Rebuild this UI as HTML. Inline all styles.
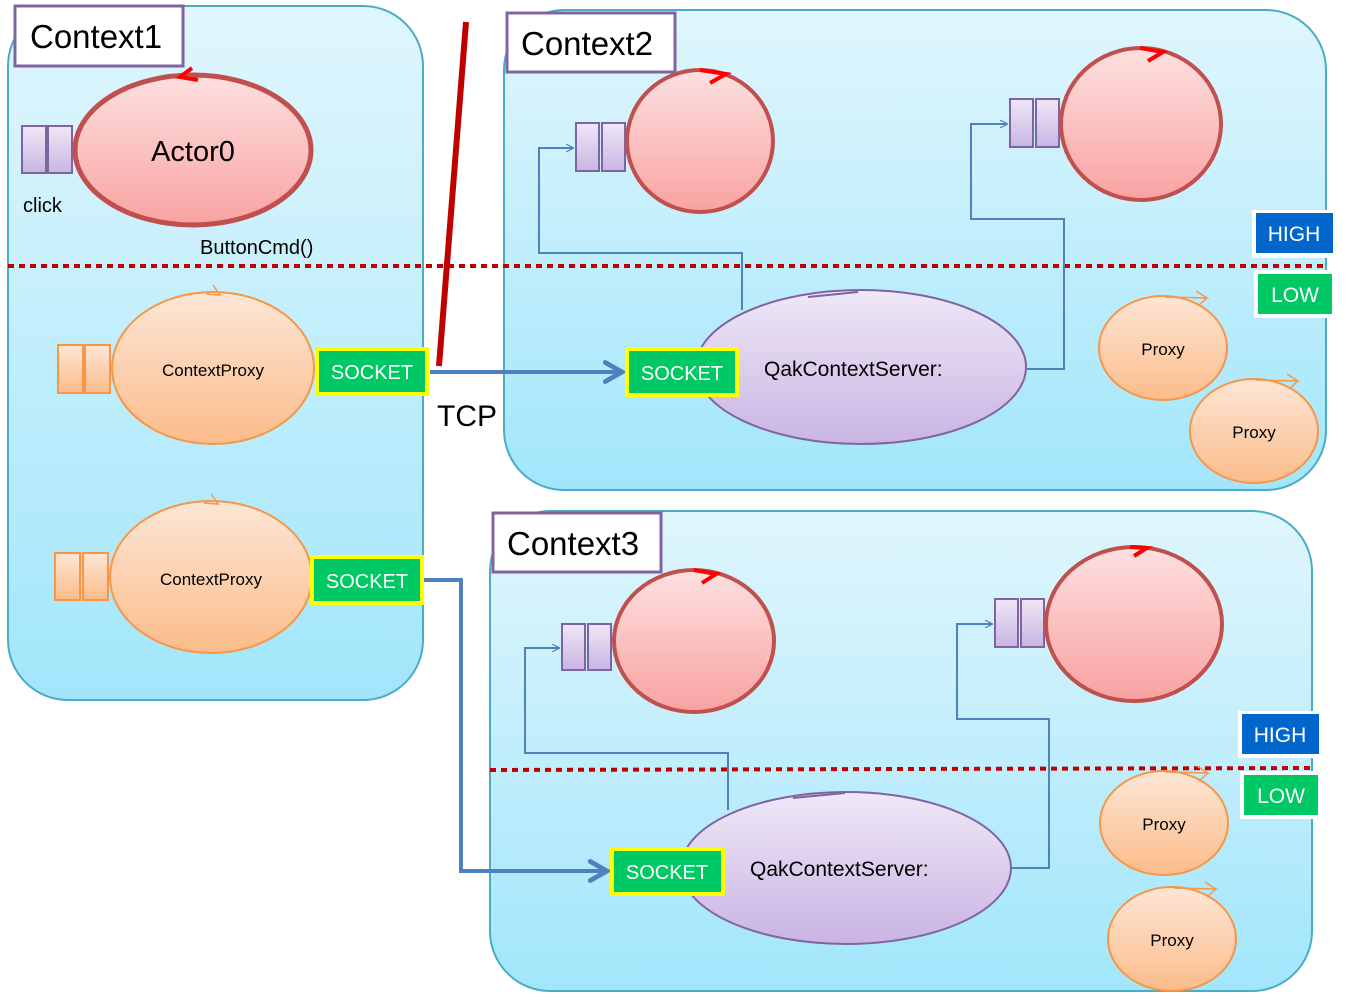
<!DOCTYPE html>
<html><head><meta charset="utf-8"><style>html,body{margin:0;padding:0;background:#fff}svg{display:block}text{font-family:"Liberation Sans",sans-serif}</style></head>
<body>
<svg width="1347" height="1002" viewBox="0 0 1347 1002" xmlns="http://www.w3.org/2000/svg">
<defs>
<linearGradient id="bg" x1="0" y1="0" x2="0" y2="1"><stop offset="0" stop-color="#e0f6fd"/><stop offset="1" stop-color="#a2e6fb"/></linearGradient>
<linearGradient id="red" x1="0" y1="0" x2="0" y2="1"><stop offset="0" stop-color="#fde0e0"/><stop offset="1" stop-color="#f9a2a2"/></linearGradient>
<linearGradient id="org" x1="0" y1="0" x2="0" y2="1"><stop offset="0" stop-color="#fde6d6"/><stop offset="1" stop-color="#fbbc8a"/></linearGradient>
<linearGradient id="pur" x1="0" y1="0" x2="0" y2="1"><stop offset="0" stop-color="#efe8f7"/><stop offset="1" stop-color="#c9b4e3"/></linearGradient>
<marker id="ah" viewBox="0 0 10 10" refX="9" refY="5" markerWidth="8" markerHeight="8" orient="auto" markerUnits="userSpaceOnUse"><path d="M0,0 L10,5 L0,10" fill="none" stroke="#4f81bd" stroke-width="1.5"/></marker>
<marker id="bah" viewBox="0 0 10 10" refX="8" refY="5" markerWidth="6" markerHeight="6" orient="auto"><path d="M1,1 L8,5 L1,9" fill="none" stroke="#4f81bd" stroke-width="2" stroke-linecap="round"/></marker>
</defs>

<!-- Context boxes -->
<rect x="8" y="6" width="415" height="694" rx="60" fill="url(#bg)" stroke="#4bacc6" stroke-width="2"/>
<rect x="504" y="10" width="822" height="480" rx="60" fill="url(#bg)" stroke="#4bacc6" stroke-width="2"/>
<rect x="490" y="511" width="822" height="480" rx="60" fill="url(#bg)" stroke="#4bacc6" stroke-width="2"/>

<!-- Context1 -->
<rect x="15" y="6" width="168" height="60" fill="#fff" stroke="#8064a2" stroke-width="3"/>
<text x="30" y="48" font-size="33">Context1</text>
<rect x="22" y="126" width="24" height="47" fill="url(#pur)" stroke="#8064a2" stroke-width="2"/>
<rect x="48" y="126" width="24" height="47" fill="url(#pur)" stroke="#8064a2" stroke-width="2"/>
<ellipse cx="193" cy="150" rx="118" ry="75" fill="url(#red)" stroke="#c0504d" stroke-width="5"/>
<path d="M198,80 L180,77 L192,68" fill="none" stroke="#f00" stroke-width="4"/>
<text x="193" y="161" font-size="29" text-anchor="middle">Actor0</text>
<text x="23" y="212" font-size="20">click</text>
<text x="200" y="254" font-size="20">ButtonCmd()</text>

<line x1="8" y1="266" x2="1325" y2="266" stroke="#c00000" stroke-width="4" stroke-dasharray="6,5"/>
<line x1="466" y1="22" x2="439" y2="366" stroke="#c00000" stroke-width="6"/>

<rect x="58" y="345" width="25" height="48" fill="url(#org)" stroke="#f79646" stroke-width="2"/>
<rect x="85" y="345" width="25" height="48" fill="url(#org)" stroke="#f79646" stroke-width="2"/>
<ellipse cx="213" cy="368" rx="101" ry="76" fill="url(#org)" stroke="#f79646" stroke-width="2"/>
<path d="M206,294 L220,295 L213,285" fill="none" stroke="#f79646" stroke-width="1.5"/>
<text x="213" y="376" font-size="17" text-anchor="middle">ContextProxy</text>
<rect x="317" y="349" width="110" height="45" fill="#00c864" stroke="#ffff00" stroke-width="4"/>
<text x="372" y="379" font-size="20" fill="#fff" text-anchor="middle">SOCKET</text>

<rect x="55" y="553" width="25" height="47" fill="url(#org)" stroke="#f79646" stroke-width="2"/>
<rect x="83" y="553" width="25" height="47" fill="url(#org)" stroke="#f79646" stroke-width="2"/>
<ellipse cx="211" cy="577" rx="101" ry="76" fill="url(#org)" stroke="#f79646" stroke-width="2"/>
<path d="M204,503 L218,504 L211,494" fill="none" stroke="#f79646" stroke-width="1.5"/>
<text x="211" y="585" font-size="17" text-anchor="middle">ContextProxy</text>
<rect x="312" y="557" width="110" height="46" fill="#00c864" stroke="#ffff00" stroke-width="4"/>
<text x="367" y="588" font-size="20" fill="#fff" text-anchor="middle">SOCKET</text>

<!-- TCP arrows -->
<line x1="430" y1="372" x2="622" y2="372" stroke="#4f81bd" stroke-width="4" marker-end="url(#bah)"/>
<text x="437" y="426" font-size="30">TCP</text>
<polyline points="424,580 461,580 461,871 607,871" fill="none" stroke="#4f81bd" stroke-width="4" marker-end="url(#bah)"/>

<!-- Context2 -->
<rect x="507" y="13" width="168" height="59" fill="#fff" stroke="#8064a2" stroke-width="3"/>
<text x="521" y="55" font-size="33">Context2</text>
<polyline points="742,310 742,253 539,253 539,148 573,148" fill="none" stroke="#4f81bd" stroke-width="2" marker-end="url(#ah)"/>
<polyline points="1027,369 1064,369 1064,219 971,219 971,124 1007,124" fill="none" stroke="#4f81bd" stroke-width="2" marker-end="url(#ah)"/>
<rect x="576" y="123" width="23" height="48" fill="url(#pur)" stroke="#8064a2" stroke-width="2"/>
<rect x="602" y="123" width="23" height="48" fill="url(#pur)" stroke="#8064a2" stroke-width="2"/>
<ellipse cx="700" cy="141" rx="73" ry="71" fill="url(#red)" stroke="#c0504d" stroke-width="4"/>
<path d="M700,70 L726,74 L710,83" fill="none" stroke="#f00" stroke-width="4"/>
<rect x="1010" y="99" width="23" height="48" fill="url(#pur)" stroke="#8064a2" stroke-width="2"/>
<rect x="1036" y="99" width="23" height="48" fill="url(#pur)" stroke="#8064a2" stroke-width="2"/>
<ellipse cx="1141" cy="124" rx="80" ry="76" fill="url(#red)" stroke="#c0504d" stroke-width="4"/>
<path d="M1140,48 L1163,52 L1148,61" fill="none" stroke="#f00" stroke-width="4"/>
<ellipse cx="861" cy="367" rx="165" ry="77" fill="url(#pur)" stroke="#8064a2" stroke-width="2"/>
<line x1="808" y1="297" x2="858" y2="292" stroke="#8064a2" stroke-width="2"/>
<rect x="627" y="349" width="110" height="46" fill="#00c864" stroke="#ffff00" stroke-width="4"/>
<text x="682" y="380" font-size="20" fill="#fff" text-anchor="middle">SOCKET</text>
<text x="764" y="376" font-size="21">QakContextServer:</text>
<rect x="1252" y="210" width="86" height="48" fill="#fff"/>
<rect x="1256" y="213" width="77" height="40" fill="#0066cc"/>
<text x="1294" y="241" font-size="21" fill="#fff" text-anchor="middle">HIGH</text>
<rect x="1254" y="270" width="83" height="48" fill="#fff"/>
<rect x="1258" y="274" width="74" height="40" fill="#00c864"/>
<text x="1295" y="302" font-size="21" fill="#fff" text-anchor="middle">LOW</text>
<ellipse cx="1163" cy="348" rx="64" ry="52" fill="url(#org)" stroke="#f79646" stroke-width="2"/>
<path d="M1165,297 L1207,298 L1196,291 M1207,298 L1198,306" fill="none" stroke="#f79646" stroke-width="1.5"/>
<text x="1163" y="355" font-size="17" text-anchor="middle">Proxy</text>
<ellipse cx="1254" cy="431" rx="64" ry="52" fill="url(#org)" stroke="#f79646" stroke-width="2"/>
<path d="M1256,380 L1298,381 L1287,374 M1298,381 L1289,389" fill="none" stroke="#f79646" stroke-width="1.5"/>
<text x="1254" y="438" font-size="17" text-anchor="middle">Proxy</text>

<!-- Context3 -->
<rect x="493" y="513" width="168" height="59" fill="#fff" stroke="#8064a2" stroke-width="3"/>
<text x="507" y="555" font-size="33">Context3</text>
<line x1="490" y1="770" x2="1312" y2="768" stroke="#c00000" stroke-width="4" stroke-dasharray="6,5"/>
<polyline points="728,810 728,753 525,753 525,648 559,648" fill="none" stroke="#4f81bd" stroke-width="2" marker-end="url(#ah)"/>
<polyline points="1012,868 1049,868 1049,719 957,719 957,624 992,624" fill="none" stroke="#4f81bd" stroke-width="2" marker-end="url(#ah)"/>
<rect x="562" y="624" width="23" height="46" fill="url(#pur)" stroke="#8064a2" stroke-width="2"/>
<rect x="588" y="624" width="23" height="46" fill="url(#pur)" stroke="#8064a2" stroke-width="2"/>
<ellipse cx="694" cy="641" rx="80" ry="71" fill="url(#red)" stroke="#c0504d" stroke-width="4"/>
<path d="M694,570 L716,574 L702,583" fill="none" stroke="#f00" stroke-width="4"/>
<rect x="995" y="599" width="23" height="48" fill="url(#pur)" stroke="#8064a2" stroke-width="2"/>
<rect x="1021" y="599" width="23" height="48" fill="url(#pur)" stroke="#8064a2" stroke-width="2"/>
<ellipse cx="1134" cy="624" rx="88" ry="77" fill="url(#red)" stroke="#c0504d" stroke-width="4"/>
<path d="M1130,547 L1147,548 L1134,556" fill="none" stroke="#f00" stroke-width="4"/>
<ellipse cx="846" cy="868" rx="165" ry="76" fill="url(#pur)" stroke="#8064a2" stroke-width="2"/>
<line x1="793" y1="798" x2="845" y2="793" stroke="#8064a2" stroke-width="2"/>
<rect x="612" y="849" width="111" height="45" fill="#00c864" stroke="#ffff00" stroke-width="4"/>
<text x="667" y="879" font-size="20" fill="#fff" text-anchor="middle">SOCKET</text>
<text x="750" y="876" font-size="21">QakContextServer:</text>
<rect x="1238" y="711" width="86" height="47" fill="#fff"/>
<rect x="1242" y="714" width="77" height="40" fill="#0066cc"/>
<text x="1280" y="742" font-size="21" fill="#fff" text-anchor="middle">HIGH</text>
<rect x="1240" y="771" width="83" height="48" fill="#fff"/>
<rect x="1244" y="775" width="74" height="40" fill="#00c864"/>
<text x="1281" y="803" font-size="21" fill="#fff" text-anchor="middle">LOW</text>
<ellipse cx="1164" cy="823" rx="64" ry="52" fill="url(#org)" stroke="#f79646" stroke-width="2"/>
<path d="M1166,772 L1208,773 L1197,766 M1208,773 L1199,781" fill="none" stroke="#f79646" stroke-width="1.5"/>
<text x="1164" y="830" font-size="17" text-anchor="middle">Proxy</text>
<ellipse cx="1172" cy="939" rx="64" ry="52" fill="url(#org)" stroke="#f79646" stroke-width="2"/>
<path d="M1174,888 L1216,889 L1205,882 M1216,889 L1207,897" fill="none" stroke="#f79646" stroke-width="1.5"/>
<text x="1172" y="946" font-size="17" text-anchor="middle">Proxy</text>
</svg>
</body></html>
